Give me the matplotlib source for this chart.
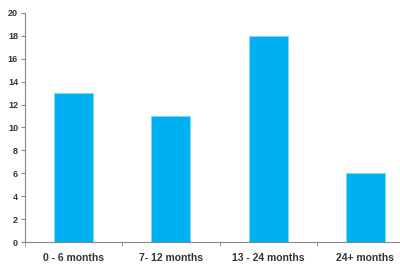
import numpy as np
import matplotlib
matplotlib.use('Agg')
import matplotlib.pyplot as plt

categories = ['0 - 6 months', '7- 12 months', '13 - 24 months', '24+ months']
values = [13, 11, 18, 6]
yticks = [0, 2, 4, 6, 8, 10, 12, 14, 16, 18, 20]

plt.rcParams['font.family'] = ['Liberation Sans', 'DejaVu Sans']

fig = plt.figure(figsize=(4, 2.68), dpi=100)
# axis runs a little past the right edge of the picture, like the source
ax = fig.add_axes([25 / 400, 26 / 268, 389 / 400, 229 / 268])

x = np.arange(len(categories))
ax.bar(x, values, width=0.4, color='#00B0F0', edgecolor='#7fd6f7', linewidth=0.6, zorder=2)

ax.set_xlim(-0.5, len(categories) - 0.5)
ax.set_ylim(0, 20)
ax.set_yticks(yticks)
ax.set_yticklabels([str(v) for v in yticks], fontsize=6.5, fontweight='bold', color='#333333')

# category labels centered, ticks on boundaries
ax.set_xticks(x)
ax.set_xticklabels(categories, fontsize=7.5, fontweight='bold', color='#333333')
ax.tick_params(axis='x', which='major', length=0, pad=8)
ax.set_xticks(np.arange(len(categories) + 1) - 0.5, minor=True)
ax.tick_params(axis='x', which='minor', length=3, color='#888888', direction='out')
ax.tick_params(axis='y', length=3, color='#888888', pad=2)

for s in ['top', 'right']:
    ax.spines[s].set_visible(False)
for s in ['left', 'bottom']:
    ax.spines[s].set_color('#888888')
    ax.spines[s].set_linewidth(0.8)

fig.savefig('out.png', dpi=100)
